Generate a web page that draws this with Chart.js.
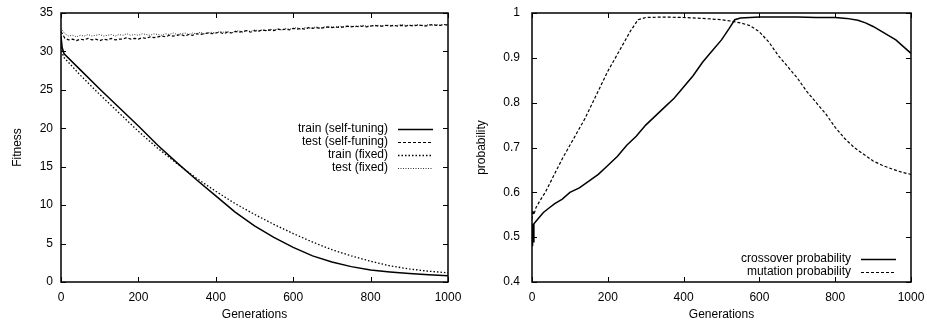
<!DOCTYPE html>
<html>
<head>
<meta charset="utf-8">
<script src="https://cdn.jsdelivr.net/npm/chart.js@4.4.0/dist/chart.umd.min.js"></script>
<style>
  body { margin: 0; background: #fff; }
  .box { position: absolute; top: 0; height: 320px; }
</style>
</head>
<body>
<div class="box" style="left:0;width:463px"><canvas id="fit" width="463" height="320"></canvas></div>
<div class="box" style="left:463px;width:464px"><canvas id="prob" width="464" height="320"></canvas></div>
<script>
// left panel: fitness
let trainGen = [0, 3, 8, 50, 100, 150, 200, 250, 300, 350, 400, 450, 500, 550, 600, 650, 700, 750, 800, 850, 900, 950, 1000]
let trainSelf = [32, 30.5, 29.7, 27.6, 25.1, 22.7, 20.3, 17.8, 15.5, 13.3, 11.2, 9.1, 7.3, 5.8, 4.5, 3.4, 2.6, 2.0, 1.55, 1.3, 1.1, 0.95, 0.8]
let fixedGen = [0, 3, 6, 50, 100, 150, 200, 250, 300, 350, 400, 450, 500, 550, 600, 650, 700, 750, 800, 850, 900, 950, 1000]
let trainFixed = [31, 30, 29.3, 26.9, 24.4, 22, 19.6, 17.4, 15.4, 13.5, 11.8, 10.2, 8.8, 7.5, 6.3, 5.2, 4.2, 3.4, 2.7, 2.1, 1.7, 1.4, 1.2]

let testGen = [0, 10, 20, 30, 40, 50, 60, 70, 80, 90, 100, 110, 120, 130, 140, 150, 160, 170, 180, 190, 200, 210, 220, 230, 240, 250, 260, 270, 280, 290, 300, 310, 320, 330, 340, 350, 360, 370, 380, 390, 400, 410, 420, 430, 440, 450, 460, 470, 480, 490, 500, 510, 520, 530, 540, 550, 560, 570, 580, 590, 600, 610, 620, 630, 640, 650, 660, 670, 680, 690, 700, 710, 720, 730, 740, 750, 760, 770, 780, 790, 800, 810, 820, 830, 840, 850, 860, 870, 880, 890, 900, 910, 920, 930, 940, 950, 960, 970, 980, 990, 1000]
let testSelf = [32.6, 31.7, 31.5, 31.6, 31.4, 31.6, 31.5, 31.7, 31.5, 31.6,
  31.4, 31.6, 31.5, 31.7, 31.5, 31.6, 31.6, 31.8, 31.6, 31.7,
  31.6, 31.8, 31.7, 31.9, 31.8, 31.9, 32.0, 31.9, 32.1, 32.0,
  32.1, 32.2, 32.0, 32.2, 32.1, 32.3, 32.2, 32.3, 32.4, 32.3,
  32.4, 32.5, 32.3, 32.5, 32.4, 32.6, 32.5, 32.6, 32.7, 32.5,
  32.7, 32.6, 32.8, 32.7, 32.8, 32.7, 32.9, 32.8, 32.9, 32.8,
  33.0, 32.9, 33.0, 32.9, 33.1, 33.0, 33.1, 33.0, 33.1, 33.2,
  33.1, 33.2, 33.1, 33.2, 33.3, 33.2, 33.3, 33.2, 33.3, 33.2,
  33.3, 33.4, 33.3, 33.3, 33.4, 33.3, 33.4, 33.3, 33.4, 33.3,
  33.4, 33.3, 33.4, 33.4, 33.3, 33.4, 33.5, 33.4, 33.4, 33.5, 33.4]
let testFixed = [33.0, 32.3, 32.0, 32.1, 31.9, 32.1, 32.0, 32.2, 32.0, 32.1,
  32.2, 32.0, 32.1, 32.2, 32.0, 32.2, 32.1, 32.3, 32.1, 32.2,
  32.1, 32.3, 32.2, 32.1, 32.3, 32.2, 32.1, 32.3, 32.2, 32.4,
  32.2, 32.3, 32.4, 32.2, 32.4, 32.3, 32.5, 32.3, 32.4, 32.5,
  32.4, 32.6, 32.5, 32.6, 32.4, 32.6, 32.7, 32.5, 32.7, 32.6,
  32.8, 32.7, 32.8, 32.7, 32.9, 32.8, 32.9, 32.8, 33.0, 32.9,
  33.0, 33.1, 32.9, 33.1, 33.0, 33.1, 33.2, 33.0, 33.2, 33.1,
  33.2, 33.1, 33.3, 33.2, 33.2, 33.3, 33.2, 33.3, 33.4, 33.3,
  33.3, 33.3, 33.4, 33.3, 33.4, 33.4, 33.3, 33.4, 33.5, 33.4,
  33.4, 33.4, 33.5, 33.4, 33.4, 33.5, 33.4, 33.5, 33.4, 33.5, 33.5]

// right panel: probabilities
let crossGen = [0, 1, 2, 3, 5, 10, 20, 30, 45, 60, 80, 100, 125, 150, 175, 200, 225, 250, 275, 300, 325, 350, 375, 400, 425, 450, 475, 500, 520, 535, 550, 575, 600, 650, 700, 750, 800, 830, 860, 880, 900, 920, 940, 960, 980, 1000]
let crossProb = [0.53, 0.48, 0.52, 0.49, 0.53, 0.535, 0.545, 0.555, 0.565, 0.575, 0.585, 0.6, 0.61, 0.625, 0.64, 0.66, 0.68, 0.705, 0.725, 0.75, 0.77, 0.79, 0.81, 0.835, 0.86, 0.89, 0.915, 0.94, 0.965, 0.985, 0.989, 0.99, 0.991, 0.991, 0.991, 0.99, 0.99, 0.988, 0.984, 0.978, 0.97, 0.96, 0.95, 0.94, 0.925, 0.91]
let mutGen = [0, 2, 5, 10, 20, 35, 50, 65, 80, 100, 120, 140, 160, 180, 200, 220, 240, 260, 280, 300, 350, 400, 450, 500, 525, 550, 575, 600, 625, 650, 675, 700, 725, 750, 775, 800, 825, 850, 875, 900, 925, 950, 975, 1000]
let mutProb = [0.54, 0.56, 0.55, 0.565, 0.58, 0.6, 0.625, 0.65, 0.675, 0.705, 0.735, 0.765, 0.8, 0.835, 0.87, 0.9, 0.93, 0.96, 0.985, 0.99, 0.991, 0.99, 0.988, 0.985, 0.982, 0.978, 0.972, 0.958, 0.935, 0.905, 0.88, 0.855, 0.825, 0.8, 0.775, 0.745, 0.72, 0.7, 0.685, 0.67, 0.66, 0.652, 0.645, 0.64]

let fitTicks = [0, 5, 10, 15, 20, 25, 30, 35]
let probTicks = [0.4, 0.5, 0.6, 0.7, 0.8, 0.9, 1]
let genTicks = [0, 200, 400, 600, 800, 1000]

const FONT = { family: '"Liberation Sans", Arial, sans-serif', size: 12 }
Chart.defaults.font = FONT
Chart.defaults.color = '#000'

function pts(xs, ys) {
  return xs.map((x, i) => ({ x: x, y: ys[i] }))
}

// gnuplot style box with inward ticks on all four sides
const frame = {
  id: 'frame',
  afterDraw(chart) {
    let c = chart.ctx, a = chart.chartArea
    let xs = chart.scales.x, ys = chart.scales.y
    c.save()
    c.strokeStyle = '#000'
    c.lineWidth = 1
    c.beginPath()
    xs.ticks.forEach(t => {
      let px = Math.round(xs.getPixelForValue(t.value)) + 0.5
      c.moveTo(px, a.bottom); c.lineTo(px, a.bottom - 5)
      c.moveTo(px, a.top); c.lineTo(px, a.top + 5)
    })
    ys.ticks.forEach(t => {
      let py = Math.round(ys.getPixelForValue(t.value)) + 0.5
      c.moveTo(a.left, py); c.lineTo(a.left + 5, py)
      c.moveTo(a.right, py); c.lineTo(a.right - 5, py)
    })
    c.stroke()
    c.lineWidth = 1.5
    c.strokeRect(a.left, a.top, a.right - a.left, a.bottom - a.top)
    c.restore()
  }
}

// key drawn inside the plot, text right-aligned, sample to the right
const key = {
  id: 'key',
  afterDraw(chart, args, opts) {
    let c = chart.ctx
    c.save()
    c.font = '12px ' + FONT.family
    c.textAlign = 'right'
    c.textBaseline = 'middle'
    chart.data.datasets.forEach((ds, i) => {
      let y = opts.y + i * opts.gap
      c.fillStyle = '#000'
      c.fillText(ds.label, opts.x, y)
      c.strokeStyle = ds.borderColor
      c.lineWidth = ds.borderWidth
      c.setLineDash(ds.borderDash || [])
      c.beginPath()
      c.moveTo(opts.x + 10, y + 0.5)
      c.lineTo(opts.x + 45, y + 0.5)
      c.stroke()
    })
    c.restore()
  }
}

// keep label overhang from shrinking the plot box
function noOverhang(s) {
  s.paddingTop = 0; s.paddingBottom = 0
  s.paddingLeft = 0; s.paddingRight = 0
}

function xAxis() {
  return {
    type: 'linear', min: 0, max: 1000,
    afterBuildTicks: s => { s.ticks = genTicks.map(v => ({ value: v })) },
    afterFit: s => { s.height = 38; noOverhang(s) },
    grid: { display: false, drawTicks: false }, border: { display: false },
    ticks: { padding: 8, maxRotation: 0, autoSkip: false, callback: v => String(v) },
    title: { display: true, text: 'Generations', padding: { top: 0, bottom: -2 } }
  }
}

function line(label, xs, ys, dash, width, color) {
  return {
    label: label, data: pts(xs, ys), borderColor: color || '#000',
    borderWidth: width, borderDash: dash, pointRadius: 0, tension: 0, fill: false
  }
}

new Chart('fit', {
  type: 'line',
  data: {
    datasets: [
      line('train (self-tuning)', trainGen, trainSelf, [], 1.5),
      line('test (self-funing)', testGen, testSelf, [3, 2], 1.2),
      line('train (fixed)', fixedGen, trainFixed, [1.5, 2], 1.3),
      line('test (fixed)', testGen, testFixed, [1, 1.5], 1, '#333')
    ]
  },
  options: {
    responsive: false, animation: false,
    layout: { padding: { top: 13, right: 15, left: 0, bottom: 0 } },
    scales: {
      x: xAxis(),
      y: {
        type: 'linear', min: 0, max: 35,
        afterBuildTicks: s => { s.ticks = fitTicks.map(v => ({ value: v })) },
        afterFit: s => { s.width = 61; noOverhang(s) },
        grid: { display: false, drawTicks: false }, border: { display: false },
        ticks: { padding: 8 },
        title: { display: true, text: 'Fitness', padding: { top: 10, bottom: 0 } }
      }
    },
    plugins: {
      legend: { display: false }, tooltip: { enabled: false },
      key: { x: 388, y: 129, gap: 13 }
    }
  },
  plugins: [frame, key]
})

new Chart('prob', {
  type: 'line',
  data: {
    datasets: [
      line('crossover probability', crossGen, crossProb, [], 1.5),
      line('mutation probability', mutGen, mutProb, [3, 2], 1.2)
    ]
  },
  options: {
    responsive: false, animation: false,
    layout: { padding: { top: 13, right: 16, left: 0, bottom: 0 } },
    scales: {
      x: xAxis(),
      y: {
        type: 'linear', min: 0.4, max: 1,
        afterBuildTicks: s => { s.ticks = probTicks.map(v => ({ value: v })) },
        afterFit: s => { s.width = 69; noOverhang(s) },
        grid: { display: false, drawTicks: false }, border: { display: false },
        ticks: { padding: 12, callback: v => String(Math.round(v * 10) / 10) },
        title: { display: true, text: 'probability', padding: { top: 11, bottom: 0 } }
      }
    },
    plugins: {
      legend: { display: false }, tooltip: { enabled: false },
      key: { x: 388, y: 259, gap: 13 }
    }
  },
  plugins: [frame, key]
})
</script>
</body>
</html>
